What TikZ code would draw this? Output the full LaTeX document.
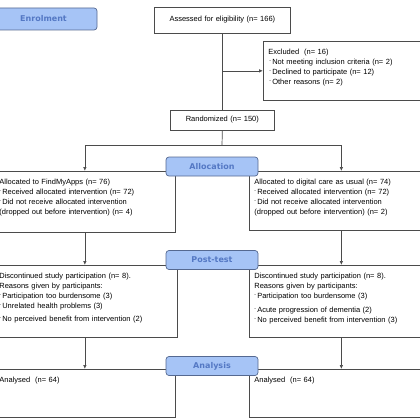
\documentclass[tikz,border=0pt]{standalone}
\usepackage{fontspec}
\setmainfont{Liberation Sans}
\newfontfamily\phasefont{DejaVu Sans}
\usetikzlibrary{positioning,arrows.meta}
\definecolor{mline}{RGB}{75,75,75}
\definecolor{phasefill}{RGB}{166,196,246}
\definecolor{phasedraw}{RGB}{85,105,145}
\definecolor{phasetext}{RGB}{84,120,196}
\newcommand{\bul}{{\tiny\raisebox{2.5pt}{-}}\,}

\begin{document}
\begin{tikzpicture}[x=1pt, y=-1pt,
  box/.style={draw=mline, line width=0.7pt, anchor=north west, align=left, font=\fontsize{7.5}{10}\selectfont, inner xsep=5pt, inner ysep=0pt, text height=13.5pt},
  phase/.style={draw=phasedraw, fill=phasefill, rounded corners=3pt, line width=0.7pt, text=phasetext, font=\phasefont\bfseries\fontsize{8}{9}\selectfont, minimum width=92pt, minimum height=19pt, inner sep=0pt},
  link/.style={draw=mline, line width=0.7pt},
  arr/.style={link, -{Latex[length=4pt,width=3.5pt]}}]
\useasboundingbox (0,0) rectangle (420,420);
% Enrolment
\node[box, align=center, text width=126pt, text height=14pt, text depth=12pt] (assess) at (154,7) {Assessed for eligibility (n= 166)};
\node[box, text width=174pt, text depth=45.5pt] (excl) at (263,41) {Excluded\ \ (n= 16)\\
  \hspace{1pt}\bul Not meeting inclusion criteria (n= 2)\\
  \hspace{1pt}\bul Declined to participate (n= 12)\\
  \hspace{1pt}\bul Other reasons (n= 2)};
\node[box, align=center, text width=94pt, text height=11pt, text depth=9pt] (rand) at (170,110) {Randomized (n= 150)};
% Allocation
\node[box, text width=171pt, text depth=47.5pt] (allocL) at (-6,171) {Allocated to FindMyApps (n= 76)\\
  \bul Received\ allocated\ intervention\ (n= 72)\\
  \bul Did not receive\ allocated intervention\\
  (dropped\ out before intervention)\ (n= 4)};
\node[box, text width=174pt, text depth=45.5pt] (allocR) at (249,171) {Allocated to digital care as usual (n= 74)\\
  \bul Received\ allocated\ intervention\ (n= 72)\\
  \bul Did not receive\ allocated intervention\\
  (dropped\ out before intervention)\ (n= 2)};
% Post-test
\node[box, text width=173pt, text depth=58.5pt] (postL) at (-6,265) {Discontinued study participation (n= 8).\\
  Reasons given by participants:\\
  \bul Participation too burdensome (3)\\
  \bul Unrelated\ health problems (3)\\[3pt]
  \bul No perceived\ benefit from intervention (2)};
\node[box, text width=174pt, text depth=58.5pt] (postR) at (249,265) {Discontinued study participation (n= 8).\\
  Reasons given by participants:\\
  \bul Participation too burdensome (3)\\[4pt]
  \bul Acute progression\ of dementia (2)\\
  \bul No perceived\ benefit from intervention (3)};
% Analysis
\node[box, text width=171pt, text depth=34.5pt] (analL) at (-6,369) {Analysed\ \ (n= 64)};
\node[box, text width=174pt, text depth=34.5pt] (analR) at (249,369) {Analysed\ \ (n= 64)};
% Verbindungen
\coordinate (exj) at (assess.south |- excl.west);
\coordinate (split) at (222,145);
\coordinate (sL) at (allocL.north |- split);
\coordinate (sR) at (allocR.north |- split);
\draw[link] (assess.south) -- (rand.north);
\draw[arr] (exj) -- (excl.west);
\draw[link] (rand.south) -- (split);
\draw[link] (sL) -- (sR);
\draw[arr] (sL) -- (allocL.north);
\draw[arr] (sR) -- (allocR.north);
\draw[arr] (allocL.south) -- (allocL.south |- postL.north);
\draw[arr] (allocR.south) -- (allocR.south |- postR.north);
\draw[arr] (postL.south -| allocL.south) -- (allocL.south |- analL.north);
\draw[arr] (postR.south -| allocR.south) -- (allocR.south |- analR.north);
% Phasen
\node[phase, minimum width=107pt, minimum height=22pt] (enrol) at (43.5,19) {Enrolment};
\node[phase] (allocph) at (212,166.5) {Allocation};
\node[phase] (postph) at (212,260) {Post-test};
\node[phase] (analph) at (212,366) {Analysis};
\end{tikzpicture}
\end{document}
